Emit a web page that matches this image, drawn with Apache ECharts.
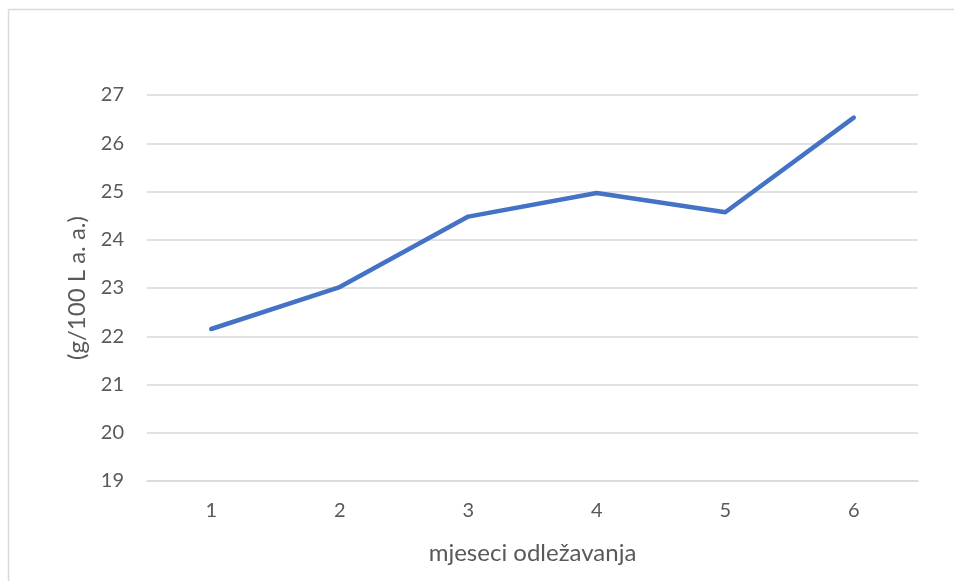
<!DOCTYPE html>
<html><head><meta charset="utf-8">
<script src="https://cdn.jsdelivr.net/npm/echarts@6/dist/echarts.min.js"></script>
<style>html,body{margin:0;padding:0;background:#fff}#c{width:954px;height:581px}</style>
</head><body><div id="c"></div>
<script>
var categories = ['1','2','3','4','5','6'];
var values = [22.15, 23.02, 24.48, 24.97, 24.57, 26.53];
var yTicks = {min: 19, max: 27, interval: 1};
var yTitle = '(g/100 L a. a.)';
var xTitle = 'mjeseci odležavanja';

var chart = echarts.init(document.getElementById('c'), null, {renderer: 'canvas'});
var font = 'Lato, "Open Sans", sans-serif';
chart.setOption({
  animation: false,
  backgroundColor: '#fff',
  graphic: [
    {type: 'line', shape: {x1: 8.5, y1: 9.5, x2: 8.5, y2: 581}, style: {stroke: '#d9d9d9', lineWidth: 1.5}},
    {type: 'line', shape: {x1: 8.5, y1: 9.5, x2: 954, y2: 9.5}, style: {stroke: '#d9d9d9', lineWidth: 1.5}}
  ],
  grid: {left: 147, right: 36, top: 95, bottom: 100},
  xAxis: {
    type: 'category',
    data: categories,
    boundaryGap: true,
    name: xTitle,
    nameLocation: 'middle',
    nameGap: 60,
    nameTextStyle: {fontFamily: font, fontSize: 24, color: '#595959'},
    axisLine: {lineStyle: {color: '#d9d9d9', width: 1.5}},
    axisTick: {show: false},
    axisLabel: {fontFamily: font, fontSize: 20, color: '#595959', margin: 20}
  },
  yAxis: {
    type: 'value',
    min: yTicks.min, max: yTicks.max, interval: yTicks.interval,
    name: yTitle,
    nameLocation: 'middle',
    nameGap: 58,
    nameRotate: 90,
    nameTextStyle: {fontFamily: font, fontSize: 24, color: '#595959'},
    axisLine: {show: false},
    axisTick: {show: false},
    splitLine: {lineStyle: {color: '#d9d9d9', width: 1.5}},
    axisLabel: {fontFamily: font, fontSize: 20, color: '#595959', margin: 23}
  },
  series: [{
    type: 'line',
    data: values,
    symbol: 'none',
    lineStyle: {color: '#4472C4', width: 4.5, cap: 'round', join: 'round'}
  }]
});
</script></body></html>
